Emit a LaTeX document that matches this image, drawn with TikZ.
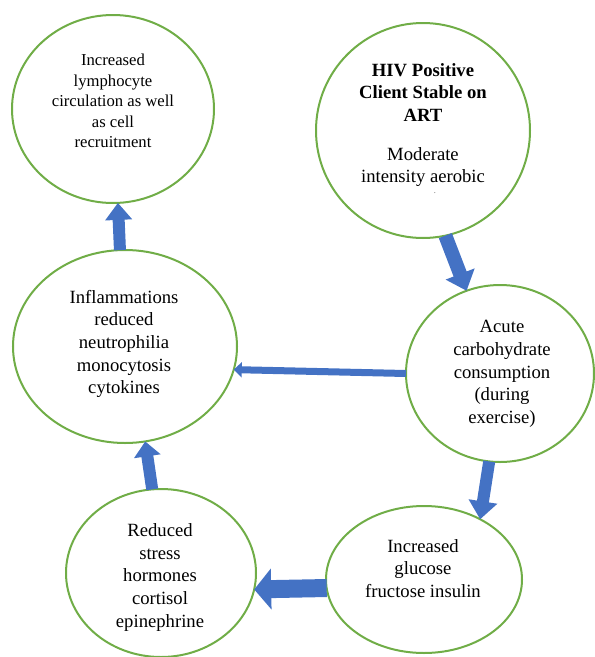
\documentclass[tikz,border=0pt]{standalone}
\usepackage{fontspec}
\setmainfont{Liberation Serif}
\usetikzlibrary{shapes.geometric, arrows.meta}
\definecolor{leafgreen}{HTML}{70AD47}
\definecolor{officeblue}{HTML}{4472C4}

\tikzset{
  bubble/.style={draw=leafgreen, line width=1.5pt, ellipse, inner sep=0pt, outer sep=0pt},
  words/.style={align=center, font=\fontsize{14}{17}\selectfont},
  flow/.style n args={3}{draw=officeblue, line width=#1, -{Triangle[width=#2, length=#3]}},
}

\begin{document}
\begin{tikzpicture}[x=0.75pt, y=-0.75pt]
        \useasboundingbox (0,0) rectangle (595,657);

        % Ellipses
        \node[bubble, minimum width=151.5pt, minimum height=141pt] (lymph) at (113,109) {};
        \node[bubble, minimum width=160.5pt, minimum height=161.25pt] (hiv) at (423,130.5) {};
        \node[bubble, minimum width=168pt, minimum height=144.75pt] (infl) at (125,346.5) {};
        \node[bubble, minimum width=141pt, minimum height=132.75pt] (acute) at (500,373.5) {};
        \node[bubble, minimum width=142.5pt, minimum height=126pt] (stress) at (161,573) {};
        \node[bubble, minimum width=147pt, minimum height=110.25pt] (glucose) at (424,579.5) {};

        % Texts
        \node[words, font=\fontsize{12.5}{15.4}\selectfont] (lymphtxt) at (113,101)
          {Increased\\lymphocyte\\circulation as well\\as cell\\recruitment};
        \node[words] (hivtxt) at (423,125)
          {\textbf{HIV Positive}\\\textbf{Client Stable on}\\\textbf{ART}\\[12pt]Moderate\\intensity aerobic};
        \node[font=\fontsize{5}{6}\selectfont] (hivdot) at (435,193) {.};
        \node[words] (infltxt) at (124,344)
          {Inflammations\\reduced\\neutrophilia\\monocytosis\\cytokines};
        \node[words] (acutetxt) at (502,374)
          {Acute\\carbohydrate\\consumption\\(during\\exercise)};
        \node[words] (stresstxt) at (160,577.5)
          {Reduced\\stress\\hormones\\cortisol\\epinephrine};
        \node[words] (glucosetxt) at (423,568.5)
          {Increased\\glucose\\fructose insulin};

        % Block arrows
        \foreach \from/\to/\w/\h/\l in {
            infl.93.5/lymph.273.6/9pt/19.5pt/12.75pt,
            hiv.282.6/acute.112.7/10.5pt/22.5pt/13.5pt,
            acute.180.9/infl.348.7/5.25pt/11.25pt/6pt,
            acute.263.8/glucose.47.8/9pt/21pt/13.5pt,
            glucose.185.6/stress.350.4/13.5pt/30pt/12.75pt,
            stress.96.2/infl.282.4/9pt/19.5pt/11.25pt} {
          \draw[flow={\w}{\h}{\l}] (\from) -- (\to);
        }
      \end{tikzpicture}
\end{document}
